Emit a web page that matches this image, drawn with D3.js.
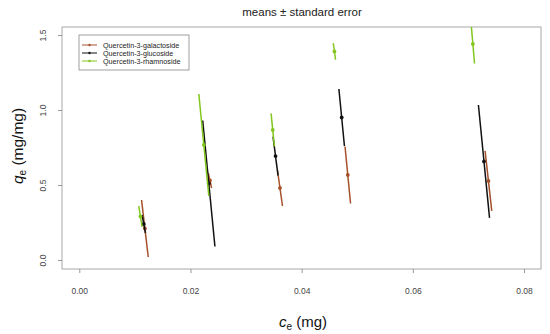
<!DOCTYPE html>
<html lang="en">
<head>
  <meta charset="UTF-8" />
  <script src="https://d3js.org/d3.v7.min.js"></script>
  <style>
    body { margin: 0; background: #fff; overflow: hidden; }
    svg { display: block; }
    text { font-family: "Liberation Sans", Arial, sans-serif; }
  </style>
</head>
<body>
  <svg width="550" height="334"></svg>
  <script>
    const seriesNames = ["Quercetin-3-galactoside", "Quercetin-3-glucoside", "Quercetin-3-rhamnoside"];
    const seriesColors = ["#a5512a", "#111111", "#82c61e"];

    // c (mg), q (mg/mg), and their errors
    const galactoside = [
      { c: 0.0118, q: 0.21, ec: 0.0006, eq: 0.19 },
      { c: 0.0235, q: 0.53, ec: 0.0003, eq: 0.05 },
      { c: 0.0361, q: 0.48, ec: 0.00045, eq: 0.12 },
      { c: 0.0483, q: 0.567, ec: 0.0005, eq: 0.19 },
      { c: 0.0736, q: 0.527, ec: 0.0006, eq: 0.2 }
    ];
    const glucoside = [
      { c: 0.0116, q: 0.24, ec: 0.0003, eq: 0.06 },
      { c: 0.0233, q: 0.51, ec: 0.0011, eq: 0.42 },
      { c: 0.0353, q: 0.693, ec: 0.00045, eq: 0.13 },
      { c: 0.0472, q: 0.95, ec: 0.0005, eq: 0.19 },
      { c: 0.0728, q: 0.657, ec: 0.001, eq: 0.376 }
    ];
    const rhamnoside = [
      { c: 0.011, q: 0.29, ec: 0.0003, eq: 0.07 },
      { c: 0.0224, q: 0.767, ec: 0.0009, eq: 0.34 },
      { c: 0.0348, q: 0.867, ec: 0.0003, eq: 0.11 },
      { c: 0.0459, q: 1.39, ec: 0.0002, eq: 0.055 },
      { c: 0.0708, q: 1.44, ec: 0.0003, eq: 0.13 }
    ];
    const allSeries = [galactoside, glucoside, rhamnoside];

    const xTicks = [0, 0.02, 0.04, 0.06, 0.08];
    const yTicks = [0, 0.5, 1.0, 1.5];

    const svg = d3.select("svg");
    const frame = { left: 62, right: 541, top: 27, bottom: 269 };

    const x = d3.scaleLinear().domain([0, 0.08]).range([79.3, 524]);
    const y = d3.scaleLinear().domain([0, 1.5]).range([260, 35]);

    svg.append("defs").append("clipPath").attr("id", "plotClip")
      .append("rect")
      .attr("x", frame.left).attr("y", frame.top)
      .attr("width", frame.right - frame.left).attr("height", frame.bottom - frame.top);

    // title
    svg.append("text")
      .attr("x", 302).attr("y", 16)
      .attr("text-anchor", "middle")
      .attr("font-size", 11.5)
      .attr("fill", "#222")
      .text("means \u00b1 standard error");

    // frame
    svg.append("rect")
      .attr("x", frame.left).attr("y", frame.top)
      .attr("width", frame.right - frame.left).attr("height", frame.bottom - frame.top)
      .attr("fill", "none").attr("stroke", "#a8a8a8").attr("stroke-width", 1);

    // x axis
    const xAxis = svg.append("g")
      .attr("transform", `translate(0,${frame.bottom})`)
      .call(d3.axisBottom(x).tickValues(xTicks).tickFormat(d3.format(".2f")).tickSize(4).tickPadding(15));
    xAxis.select(".domain").remove();
    xAxis.selectAll("line").attr("stroke", "#999");
    xAxis.selectAll("text").attr("font-size", 8.5).attr("fill", "#444")
      .style("font-family", "\"Liberation Sans\", Arial, sans-serif");

    // y axis
    const yAxis = svg.append("g")
      .attr("transform", `translate(${frame.left},0)`)
      .call(d3.axisLeft(y).tickValues(yTicks).tickFormat(d3.format(".1f")).tickSize(4));
    yAxis.select(".domain").remove();
    yAxis.selectAll("line").attr("stroke", "#999");
    yAxis.selectAll("text")
      .attr("font-size", 8.5).attr("fill", "#444")
      .attr("x", null).attr("dy", null)
      .attr("text-anchor", "middle")
      .attr("transform", "translate(-16,0) rotate(-90)")
      .style("font-family", "\"Liberation Sans\", Arial, sans-serif");

    // axis titles
    const xl = svg.append("text")
      .attr("x", 303).attr("y", 327)
      .attr("text-anchor", "middle")
      .attr("font-size", 15)
      .attr("fill", "#111");
    xl.append("tspan").attr("font-style", "italic").text("c");
    xl.append("tspan").attr("font-size", 10).attr("dy", 3).text("e");
    xl.append("tspan").attr("dy", -3).text(" (mg)");

    const yl = svg.append("text")
      .attr("transform", "translate(23,146) rotate(-90)")
      .attr("text-anchor", "middle")
      .attr("font-size", 15.5)
      .attr("fill", "#111");
    yl.append("tspan").attr("font-style", "italic").text("q");
    yl.append("tspan").attr("font-size", 10).attr("dy", 3).text("e");
    yl.append("tspan").attr("dy", -3).text(" (mg/mg)");

    // error segments and means
    const plot = svg.append("g").attr("clip-path", "url(#plotClip)");
    allSeries.forEach((data, i) => {
      const g = plot.append("g");
      g.selectAll("line")
        .data(data)
        .join("line")
        .attr("x1", d => x(d.c - d.ec))
        .attr("y1", d => y(d.q + d.eq))
        .attr("x2", d => x(d.c + d.ec))
        .attr("y2", d => y(d.q - d.eq))
        .attr("stroke", seriesColors[i])
        .attr("stroke-width", 1.5);
      g.selectAll("circle")
        .data(data)
        .join("circle")
        .attr("cx", d => x(d.c))
        .attr("cy", d => y(d.q))
        .attr("r", 1.9)
        .attr("fill", seriesColors[i]);
    });

    // legend
    const legend = svg.append("g");
    legend.append("rect")
      .attr("x", 79).attr("y", 35).attr("width", 110).attr("height", 35)
      .attr("fill", "#fff").attr("stroke", "#888").attr("stroke-width", 0.8);
    seriesNames.forEach((name, i) => {
      const ly = 45 + i * 8;
      legend.append("line")
        .attr("x1", 82).attr("x2", 97).attr("y1", ly).attr("y2", ly)
        .attr("stroke", seriesColors[i]).attr("stroke-width", 1);
      legend.append("circle")
        .attr("cx", 89.5).attr("cy", ly).attr("r", 1.2)
        .attr("fill", seriesColors[i]);
      legend.append("text")
        .attr("x", 103).attr("y", ly + 2.5)
        .attr("font-size", 7.2)
        .attr("fill", "#222")
        .text(name);
    });
  </script>
</body>
</html>
